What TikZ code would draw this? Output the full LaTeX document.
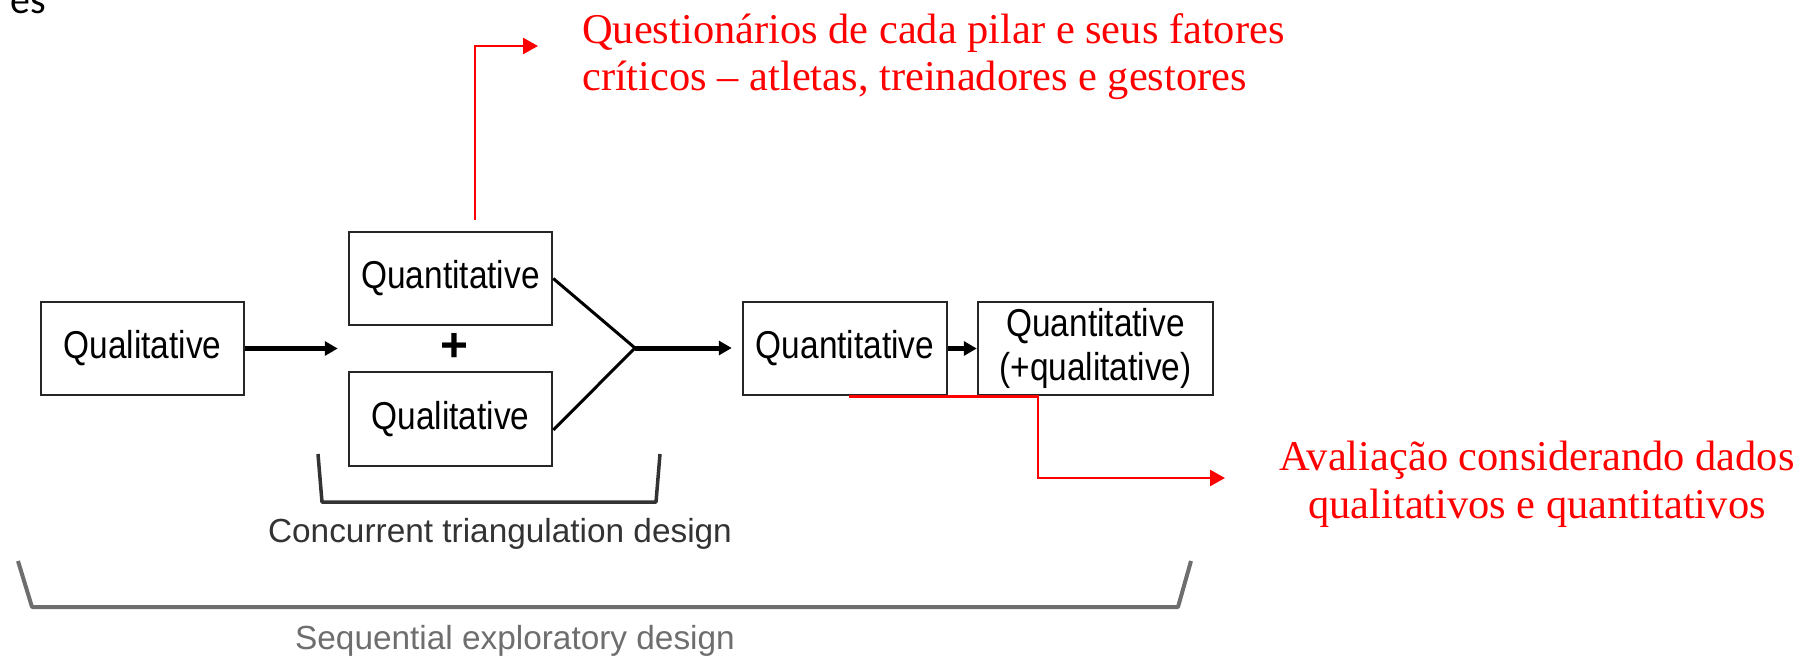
\documentclass[tikz,border=0pt]{standalone}
\usepackage{fontspec}
\setmainfont{Liberation Sans}
\newfontfamily\timesf{Liberation Serif}
\newfontfamily\calibrif{Carlito}
\newfontfamily\arialc[FakeStretch=0.86]{Liberation Sans}
\usetikzlibrary{arrows.meta}
\definecolor{boxline}{HTML}{262626}
\definecolor{darkg}{HTML}{333333}
\definecolor{midg}{HTML}{6E6E6E}
\definecolor{redc}{HTML}{FF0000}
\tikzset{
  box/.style={draw=boxline, line width=2.5bp, inner sep=0pt, minimum height=93bp,
    align=center, text=black, font=\arialc\fontsize{39}{45}\selectfont},
  blackarr/.style={line width=5bp, -{Triangle[length=13bp,width=14bp]}},
  mergeline/.style={line width=3bp},
  redarr/.style={draw=redc, line width=2.5bp, -{Triangle[length=15bp,width=16bp]}},
  redtext/.style={text=redc, font=\timesf\fontsize{42.6}{48}\selectfont, inner sep=0pt},
  caption/.style={font=\fontsize{33.5}{40}\selectfont, inner sep=0pt},
}
\begin{document}
\begin{tikzpicture}[x=1bp,y=-1bp]
\useasboundingbox (0,0) rectangle (1806,659);

\node[anchor=base west, font=\calibrif\fontsize{40}{48}\selectfont, inner sep=0pt] (es) at (10,14) {es};

% boxes
\node[box, minimum width=203bp] (q1) at (142.5,348.5) {Qualitative};
\node[box, minimum width=203bp] (top) at (450.5,278.5) {Quantitative};
\node[box, minimum width=203bp, minimum height=94bp] (low) at (450.5,419) {Qualitative};
\node[font=\bfseries\fontsize{48}{52}\selectfont, inner sep=0pt] (plus) at (454,347) {+};
\node[box, minimum width=204bp] (q2) at (845,348.5) {Quantitative};
\node[box, minimum width=235bp] (q3) at (1095.5,348.5) {Quantitative\\(+qualitative)};

% connectors
\coordinate (M) at (635,348);
\draw[blackarr, shorten >=10bp] (q1.east) -- (q1.east -| top.west);
\draw[mergeline] (top.east) -- (M) -- ([yshift=-11bp]low.east);
\draw[blackarr, shorten >=10bp] (M) -- (M -| q2.west);
\draw[blackarr] (q2.east) -- (q3.west);

% red annotations
\node[redtext, anchor=base west, align=left] (t1) at (582,91)
  {Questionários de cada pilar e seus fatores\\críticos – atletas, treinadores e gestores};
\node[redtext, anchor=base, align=center] (t2) at (1537,518)
  {Avaliação considerando dados\\qualitativos e quantitativos};
\coordinate (r1s) at (475,220);
\coordinate (r1e) at (538,46);
\draw[redarr] (r1s) |- (r1e);
\coordinate (r2s) at ([xshift=4bp]q2.south);
\coordinate (r2m) at (1038,478);
\coordinate (r2e) at (1225,478);
\draw[redarr] (r2s) -| (r2m) -- (r2e);

% brackets
\draw[darkg, line width=3.5bp, line join=round] (318,454) -- (322,502) -- (656,502) -- (660,454);
\node[caption, text=darkg, anchor=base] (cap1) at (500,542) {Concurrent triangulation design};
\draw[midg, line width=4bp, line join=round] (18,561) -- (32,607) -- (1178,607) -- (1191,561);
\node[caption, text=midg, anchor=base] (cap2) at (515,649) {Sequential exploratory design};
\end{tikzpicture}
\end{document}
